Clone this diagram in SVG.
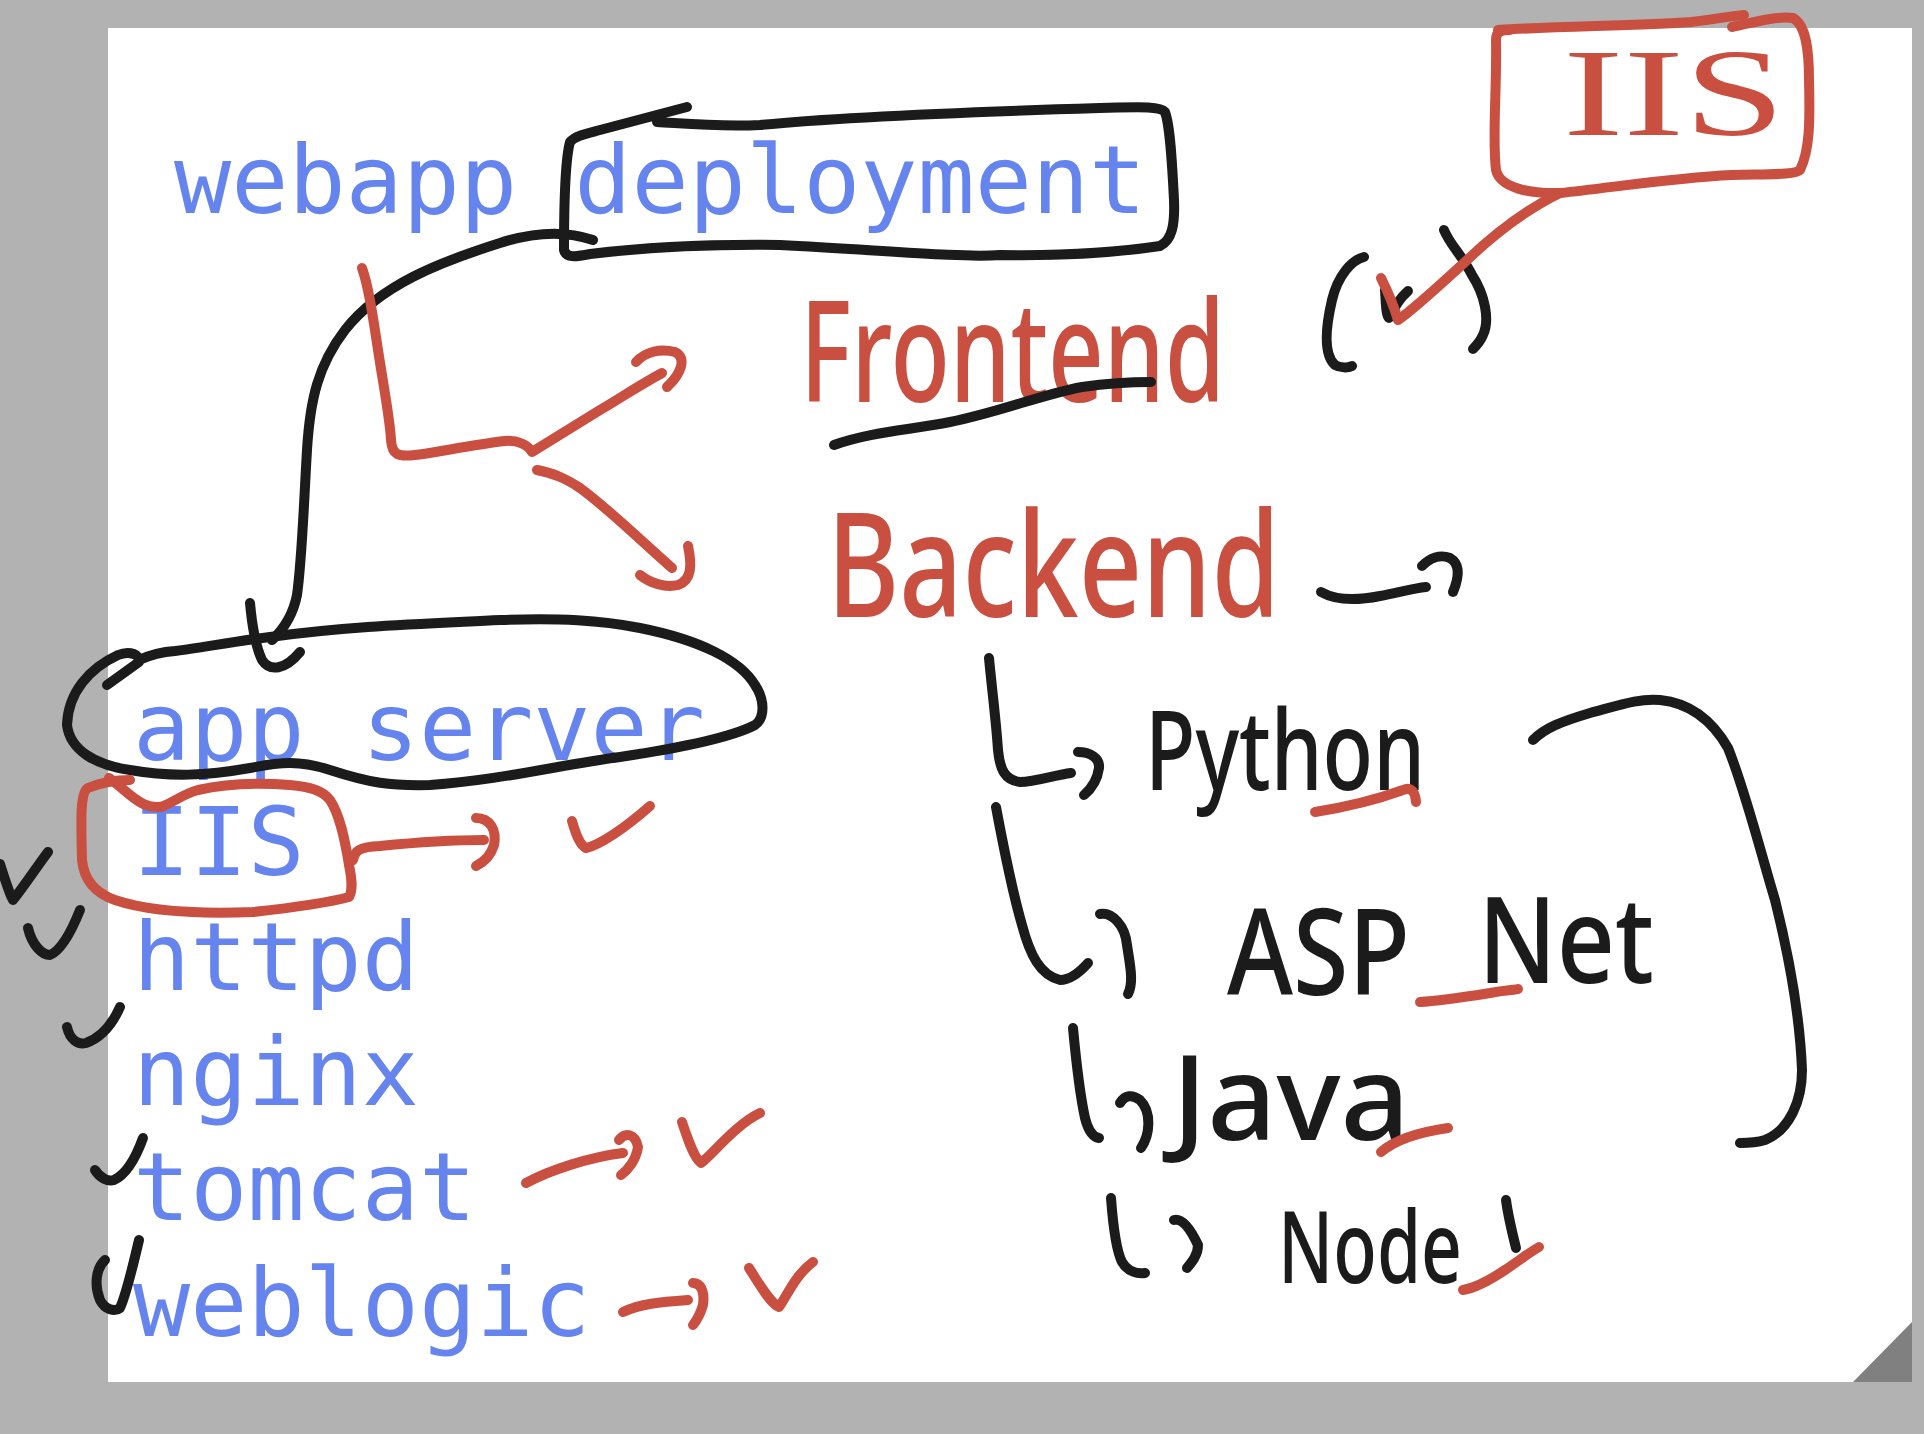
<svg xmlns="http://www.w3.org/2000/svg" width="1924" height="1434" viewBox="0 0 1924 1434">
<style>
.mono{font-family:"DejaVu Sans Mono","Liberation Mono",monospace;font-size:95px;fill:#6584ee}
.hand{font-family:"Noto Sans","DejaVu Sans",sans-serif;font-weight:500}
.hr{fill:#c95040}
.hk{fill:#1b1b1b}
.k{fill:none;stroke:#1b1b1b;stroke-width:10;stroke-linecap:round;stroke-linejoin:round}
.r{fill:none;stroke:#c95040;stroke-width:10;stroke-linecap:round;stroke-linejoin:round}
</style>
<rect x="0" y="0" width="1924" height="1434" fill="#b2b2b2"/>
<rect x="108" y="28" width="1804" height="1354" fill="#ffffff"/>
<polygon points="1853,1382 1912,1322 1912,1382" fill="#808080"/>

<g id="webapp-deployment">
<text class="mono" x="174" y="213">webapp deployment</text>
<path class="k" d="M 687 107 C 660 114, 630 122, 600 130 C 585 134, 575 136, 570 142 C 565 160, 564 200, 564 250 C 566 258, 575 257, 590 254 C 640 248, 700 244, 780 245 C 880 250, 960 258, 1000 255 C 1060 256, 1120 252, 1160 246 C 1172 240, 1175 225, 1174 200 C 1172 160, 1170 125, 1165 112 C 1160 106, 1140 107, 1100 108 C 1000 111, 850 116, 760 125 C 720 127, 690 124, 657 122"/>
</g>

<g id="app-server">
<text class="mono" x="133" y="760">app server</text>
<path class="k" d="M 107 685 L 139 662 C 141 655, 130 650, 118 655 C 90 668, 68 692, 67 725 C 70 750, 95 765, 130 770 C 170 777, 205 776, 250 768 C 280 762, 300 760, 330 770 C 370 783, 390 786, 430 785 C 500 780, 560 765, 620 757 C 680 748, 730 738, 755 725 C 765 718, 765 700, 755 685 C 740 660, 700 640, 640 628 C 600 620, 560 618, 500 620 C 420 624, 350 626, 270 637 C 230 642, 200 648, 175 651 C 160 652, 150 655, 139 660"/>
</g>

<g id="iis-item">
<text class="mono" x="133" y="875">IIS</text>
<path class="r" d="M 130 780 C 115 780, 100 783, 88 788 C 80 792, 81 820, 82 860 C 84 880, 95 893, 115 900 C 150 912, 200 914, 253 912 C 290 908, 330 902, 349 897 C 353 890, 352 880, 349 865 C 345 840, 340 815, 330 800 C 322 790, 310 787, 290 785 C 250 782, 220 785, 198 790 C 180 795, 170 805, 160 807 C 148 808, 140 803, 130 795 C 120 787, 115 782, 109 778"/>
</g>
<g id="httpd"><text class="mono" x="133" y="990">httpd</text></g>
<g id="nginx"><text class="mono" x="133" y="1105">nginx</text></g>
<g id="tomcat"><text class="mono" x="133" y="1220">tomcat</text></g>
<g id="weblogic"><text class="mono" x="133" y="1336">weblogic</text></g>

<g id="frontend">
<text class="hand hr" x="800" y="402" font-size="140" textLength="425" lengthAdjust="spacingAndGlyphs">Frontend</text>
</g>
<g id="backend">
<text class="hand hr" x="827" y="617" font-size="145" textLength="453" lengthAdjust="spacingAndGlyphs">Backend</text>
</g>
<g id="iis-box">
<text class="hr" x="1563" y="135" font-family="'Liberation Serif',serif" font-size="125" textLength="222" lengthAdjust="spacingAndGlyphs">IIS</text>
<path class="r" d="M 1498 30 C 1560 26, 1640 26, 1691 22 C 1710 20, 1730 16, 1744 15"/>
<path class="r" d="M 1732 27 C 1755 22, 1775 16, 1793 18 C 1806 25, 1809 50, 1809 80 C 1810 120, 1810 150, 1800 170 C 1795 175, 1770 174, 1732 175 C 1670 178, 1610 188, 1560 193 C 1530 194, 1500 188, 1496 170 C 1492 140, 1497 90, 1496 40 C 1496 32, 1500 30, 1510 30"/>
</g>
<g id="frontend-choice">
<path class="k" d="M 1364 257 C 1352 260, 1338 275, 1332 300 C 1325 330, 1324 355, 1335 365 C 1340 368, 1348 368, 1352 366"/>
<path class="k" d="M 1444 230 C 1450 245, 1462 255, 1472 275 C 1485 295, 1490 320, 1483 335 C 1480 342, 1476 346, 1473 349"/>
<path class="k" d="M 1385 290 C 1386 305, 1386 315, 1389 318 C 1396 305, 1400 298, 1408 291"/>
</g>
<g id="python"><text class="hand hk" x="1145" y="790" font-size="110" textLength="280" lengthAdjust="spacingAndGlyphs">Python</text></g>
<g id="aspnet">
<text class="hand hk" x="1227" y="995" font-size="120" textLength="183" lengthAdjust="spacingAndGlyphs">ASP</text>
<text class="hand hk" x="1478" y="983" font-size="120" textLength="176" lengthAdjust="spacingAndGlyphs">Net</text>
</g>
<g id="java"><text class="hand hk" x="1172" y="1140" font-size="118" textLength="238" lengthAdjust="spacingAndGlyphs">Java</text></g>
<g id="node"><text class="hand hk" x="1278" y="1283" font-size="100" textLength="184" lengthAdjust="spacingAndGlyphs">Node</text></g>

<g id="connectors">
<path class="k" d="M 593 240 C 570 232, 540 230, 500 243 C 440 262, 380 285, 345 330 C 318 365, 310 400, 307 450 C 304 500, 302 560, 297 595 C 293 615, 285 628, 272 640"/>
<path class="k" d="M 250 603 C 252 625, 255 645, 262 660 C 270 672, 285 670, 300 652"/>
<path class="r" d="M 362 268 C 368 285, 372 310, 378 350 C 385 395, 390 420, 391 440 C 392 455, 398 457, 415 455 C 440 452, 470 445, 505 441 C 518 440, 528 445, 532 452 L 600 410 C 625 395, 640 385, 662 373"/>
<path class="r" d="M 636 362 C 645 352, 660 348, 675 352 C 688 358, 680 375, 667 387"/>
<path class="r" d="M 537 470 C 555 474, 565 478, 580 488 C 610 510, 640 540, 672 568"/>
<path class="r" d="M 640 575 C 650 583, 665 588, 678 585 C 692 580, 692 565, 688 546"/>
<path class="k" d="M 834 445 C 870 432, 910 430, 950 422 C 1000 412, 1040 395, 1082 387 C 1110 383, 1130 382, 1151 382"/>
<path class="r" d="M 1381 278 C 1388 292, 1395 310, 1398 320 C 1410 312, 1440 285, 1465 262 C 1490 238, 1525 210, 1560 193"/>
<path class="k" d="M 1321 592 C 1335 600, 1355 601, 1380 596 C 1400 592, 1415 588, 1426 587"/>
<path class="k" d="M 1422 566 C 1430 558, 1440 554, 1450 558 C 1462 565, 1458 580, 1453 592"/>
<path class="k" d="M 989 658 C 992 690, 996 720, 998 750 C 1000 770, 1005 780, 1020 782 C 1035 782, 1055 775, 1071 773"/>
<path class="k" d="M 1078 752 C 1090 752, 1100 758, 1099 768 C 1097 782, 1090 790, 1084 795"/>
<path class="r" d="M 1315 812 C 1340 808, 1370 802, 1403 790 C 1410 787, 1415 790, 1416 802"/>
<path class="k" d="M 996 807 C 1004 850, 1012 890, 1022 925 C 1030 955, 1040 975, 1060 980 C 1070 980, 1080 972, 1088 963"/>
<path class="k" d="M 1100 914 C 1112 912, 1125 925, 1127 945 C 1130 965, 1134 982, 1128 994"/>
<path class="r" d="M 1420 1002 C 1440 1001, 1465 997, 1490 993 C 1505 990, 1515 990, 1518 989"/>
<path class="k" d="M 1073 1028 C 1076 1060, 1080 1095, 1085 1118 C 1088 1130, 1093 1137, 1099 1138"/>
<path class="k" d="M 1120 1103 C 1125 1095, 1132 1094, 1140 1100 C 1152 1112, 1150 1135, 1141 1148"/>
<path class="r" d="M 1381 1152 C 1395 1140, 1420 1132, 1448 1128"/>
<path class="k" d="M 1111 1198 C 1113 1225, 1116 1250, 1122 1262 C 1128 1272, 1138 1274, 1145 1273"/>
<path class="k" d="M 1174 1220 C 1182 1218, 1190 1228, 1198 1245 C 1198 1255, 1192 1262, 1187 1268"/>
<path class="k" d="M 1506 1200 C 1508 1215, 1512 1232, 1516 1248"/>
<path class="r" d="M 1463 1290 C 1475 1288, 1490 1280, 1505 1270 C 1520 1260, 1530 1252, 1539 1247"/>
<path class="k" d="M 1533 740 C 1545 728, 1560 722, 1590 713 C 1620 705, 1640 698, 1660 700 C 1690 703, 1712 720, 1728 748 C 1745 790, 1760 850, 1775 900 C 1790 960, 1800 1020, 1802 1070 C 1802 1100, 1790 1130, 1765 1140 C 1755 1143, 1748 1143, 1740 1143"/>
<path class="r" d="M 353 860 C 355 850, 360 847, 380 846 C 420 842, 450 840, 484 840"/>
<path class="r" d="M 476 818 C 490 818, 497 830, 494 845 C 491 855, 484 862, 476 866"/>
<path class="r" d="M 572 821 C 576 835, 580 845, 586 848 C 600 845, 625 828, 650 806"/>
<path class="r" d="M 526 1183 C 550 1170, 590 1157, 623 1153"/>
<path class="r" d="M 619 1140 C 625 1132, 635 1133, 638 1147 C 636 1160, 628 1170, 621 1175"/>
<path class="r" d="M 682 1122 C 688 1140, 694 1158, 701 1163 C 712 1155, 735 1125, 760 1113"/>
<path class="r" d="M 623 1312 C 640 1304, 660 1302, 688 1300"/>
<path class="r" d="M 693 1283 C 700 1283, 705 1290, 703 1305 C 700 1315, 697 1320, 693 1325"/>
<path class="r" d="M 749 1268 C 760 1285, 770 1303, 779 1307 C 786 1298, 795 1275, 813 1262"/>
<path class="k" d="M 0 864 C 5 880, 10 895, 13 900 C 25 885, 38 865, 48 852"/>
<path class="k" d="M 28 928 C 32 945, 42 955, 50 955 C 62 950, 72 930, 80 910"/>
<path class="k" d="M 67 1027 C 70 1040, 78 1045, 86 1043 C 100 1038, 112 1025, 120 1007"/>
<path class="k" d="M 95 1170 C 100 1178, 108 1182, 114 1180 C 125 1175, 135 1160, 143 1138"/>
<path class="k" d="M 105 1260 C 96 1268, 94 1285, 100 1300 C 105 1310, 115 1312, 120 1308 C 126 1295, 132 1270, 139 1240"/>
</g>
</svg>
